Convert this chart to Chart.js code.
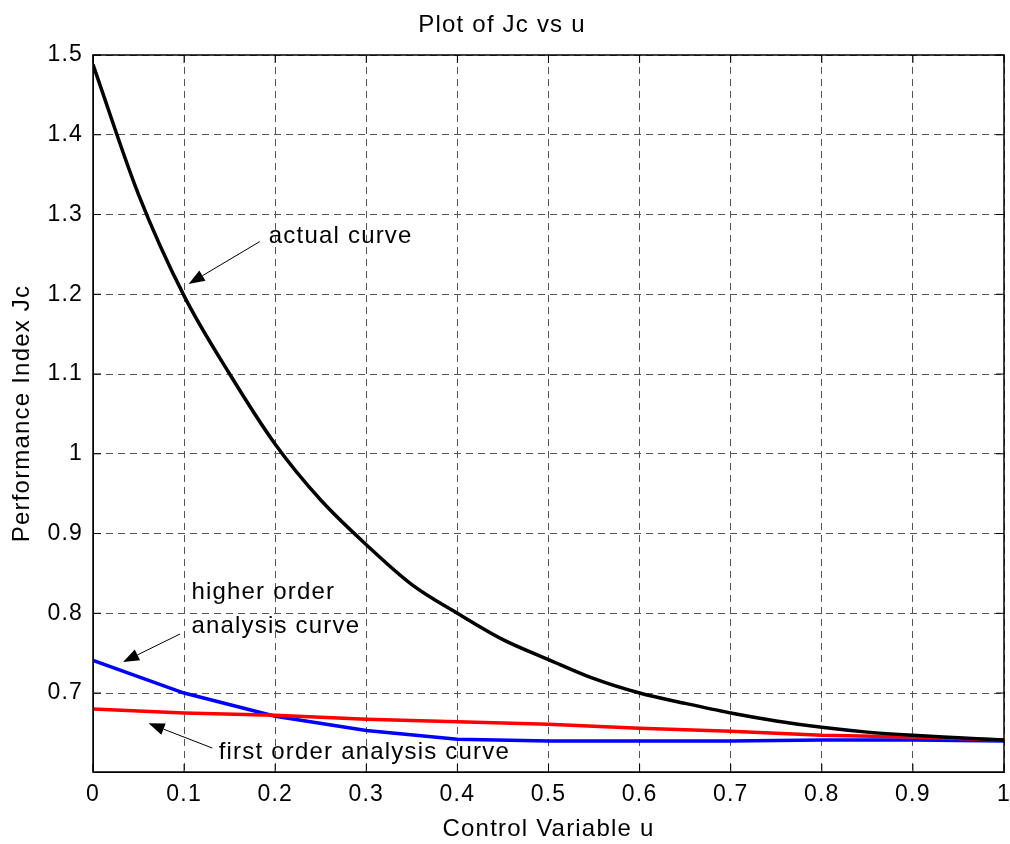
<!DOCTYPE html>
<html>
<head>
<meta charset="utf-8">
<script src="https://cdn.jsdelivr.net/npm/chart.js@4.4.1/dist/chart.umd.min.js"></script>
<style>
  html, body { margin: 0; padding: 0; background: #fff; }
  #wrap { width: 1010px; height: 844px; }
</style>
</head>
<body>
<div id="wrap"><canvas id="grafico"></canvas></div>
<script>
// dados
const uActual = [0, 0.05, 0.1, 0.15, 0.2, 0.25, 0.3, 0.35, 0.4, 0.45, 0.5, 0.55, 0.6, 0.65, 0.7, 0.75, 0.8, 0.85, 0.9, 0.95, 1.0];
const jcActual = [1.488, 1.325, 1.198, 1.100, 1.012, 0.942, 0.886, 0.836, 0.800, 0.767, 0.742, 0.718, 0.700, 0.687, 0.675, 0.665, 0.657, 0.651, 0.647, 0.644, 0.641];

const uApprox = [0, 0.1, 0.2, 0.3, 0.4, 0.5, 0.6, 0.7, 0.8, 0.9, 1.0];
const jcHigher = [0.741, 0.700, 0.671, 0.653, 0.642, 0.640, 0.640, 0.640, 0.641, 0.641, 0.640];
const jcFirst = [0.680, 0.675, 0.672, 0.667, 0.664, 0.661, 0.656, 0.652, 0.647, 0.645, 0.641];

const yTicks = [0.7, 0.8, 0.9, 1.0, 1.1, 1.2, 1.3, 1.4, 1.5];

// anotações: texto e setas (coordenadas em unidades dos dados)
const notas = [
  { linhas: ['actual curve'], x: 0.193, y: 1.272, de: [0.183, 1.266], para: [0.105, 1.213] },
  { linhas: ['higher order', 'analysis curve'], x: 0.108, y: 0.826, de: [0.0955, 0.774], para: [0.033, 0.739] },
  { linhas: ['first order analysis curve'], x: 0.138, y: 0.626, de: [0.131, 0.631], para: [0.061, 0.662] }
];

const FONTE = "'Liberation Sans', Arial, Helvetica, sans-serif";
const ESPACO = '1.2px';

function pares(xs, ys) {
  return xs.map((x, i) => ({ x: x, y: ys[i] }));
}

// texto um pouco mais espaçado, como no original
const espacoPlugin = {
  id: 'espaco',
  beforeLayout(chart) { chart.ctx.letterSpacing = ESPACO; },
  beforeDraw(chart) { chart.ctx.letterSpacing = ESPACO; }
};

const caixaPlugin = {
  id: 'caixa',
  afterDatasetsDraw(chart) {
    const { ctx, chartArea: a, scales } = chart;
    ctx.save();
    // moldura
    ctx.strokeStyle = '#000';
    ctx.lineWidth = 1.5;
    ctx.strokeRect(a.left, a.top, a.right - a.left, a.bottom - a.top);
    // ticks para dentro
    ctx.lineWidth = 1;
    ctx.beginPath();
    scales.x.ticks.forEach(t => {
      const px = scales.x.getPixelForValue(t.value);
      ctx.moveTo(px, a.bottom); ctx.lineTo(px, a.bottom - 8);
      ctx.moveTo(px, a.top); ctx.lineTo(px, a.top + 8);
    });
    scales.y.ticks.forEach(t => {
      const py = scales.y.getPixelForValue(t.value);
      ctx.moveTo(a.left, py); ctx.lineTo(a.left + 8, py);
      ctx.moveTo(a.right, py); ctx.lineTo(a.right - 8, py);
    });
    ctx.stroke();

    // anotações
    ctx.fillStyle = '#000';
    ctx.font = '24px ' + FONTE;
    ctx.letterSpacing = ESPACO;
    ctx.textBaseline = 'middle';
    ctx.textAlign = 'left';
    notas.forEach(n => {
      const tx = scales.x.getPixelForValue(n.x);
      const ty = scales.y.getPixelForValue(n.y);
      n.linhas.forEach((l, i) => ctx.fillText(l, tx, ty + i * 34));

      const x1 = scales.x.getPixelForValue(n.de[0]);
      const y1 = scales.y.getPixelForValue(n.de[1]);
      const x2 = scales.x.getPixelForValue(n.para[0]);
      const y2 = scales.y.getPixelForValue(n.para[1]);
      const ang = Math.atan2(y2 - y1, x2 - x1);
      const len = 16, larg = 6;
      const bx = x2 - len * Math.cos(ang), by = y2 - len * Math.sin(ang);
      ctx.lineWidth = 1;
      ctx.beginPath();
      ctx.moveTo(x1, y1);
      ctx.lineTo(bx, by);
      ctx.stroke();
      ctx.beginPath();
      ctx.moveTo(x2, y2);
      ctx.lineTo(bx + larg * Math.sin(ang), by - larg * Math.cos(ang));
      ctx.lineTo(bx - larg * Math.sin(ang), by + larg * Math.cos(ang));
      ctx.closePath();
      ctx.fill();
    });
    ctx.restore();
  }
};

const ctx = document.getElementById('grafico').getContext('2d');

new Chart(ctx, {
  type: 'line',
  data: {
    datasets: [
      {
        label: 'actual curve',
        data: pares(uActual, jcActual),
        borderColor: '#000',
        borderWidth: 3.5,
        pointRadius: 0,
        cubicInterpolationMode: 'monotone',
        fill: false
      },
      {
        label: 'first order analysis curve',
        data: pares(uApprox, jcFirst),
        borderColor: '#ff0000',
        borderWidth: 3.5,
        pointRadius: 0,
        tension: 0,
        fill: false
      },
      {
        label: 'higher order analysis curve',
        data: pares(uApprox, jcHigher),
        borderColor: '#0000ff',
        borderWidth: 3.5,
        pointRadius: 0,
        tension: 0,
        fill: false
      }
    ]
  },
  options: {
    responsive: true,
    maintainAspectRatio: false,
    animation: false,
    layout: { padding: { left: 0, right: 6, top: 0, bottom: 0 } },
    plugins: {
      legend: { display: false },
      tooltip: { enabled: false },
      title: {
        display: true,
        text: 'Plot of Jc vs u',
        color: '#000',
        font: { family: FONTE, size: 24, weight: 'normal', lineHeight: 1.2 },
        padding: { top: 10.6, bottom: 15.6 }
      }
    },
    scales: {
      x: {
        type: 'linear',
        min: 0,
        max: 1,
        ticks: {
          stepSize: 0.1,
          color: '#000',
          font: { family: FONTE, size: 23 },
          padding: 9,
          maxRotation: 0,
          callback: v => Number(v.toFixed(1)).toString()
        },
        grid: {
          color: '#555',
          lineWidth: 1,
          drawTicks: false
        },
        border: { display: true, color: '#000', dash: [7, 5] },
        title: {
          display: true,
          text: 'Control Variable u',
          color: '#000',
          font: { family: FONTE, size: 24, lineHeight: 1.2 },
          padding: { top: 6, bottom: 0 }
        },
        afterFit: s => { s.height = 72; s.paddingLeft = 0; s.paddingRight = 0; }
      },
      y: {
        type: 'linear',
        min: 0.601,
        max: 1.5,
        afterBuildTicks: s => { s.ticks = yTicks.map(v => ({ value: v })); },
        ticks: {
          color: '#000',
          font: { family: FONTE, size: 23 },
          padding: 10,
          callback: v => Number(v.toFixed(1)).toString()
        },
        grid: {
          color: '#555',
          lineWidth: 1,
          drawTicks: false
        },
        border: { display: true, color: '#000', dash: [7, 5] },
        title: {
          display: true,
          text: 'Performance Index Jc',
          color: '#000',
          font: { family: FONTE, size: 24, lineHeight: 1.2 },
          padding: { top: 7.6, bottom: 4 }
        },
        afterFit: s => { s.width = 93; s.paddingTop = 0; s.paddingBottom = 0; }
      }
    }
  },
  plugins: [espacoPlugin, caixaPlugin]
});
</script>
</body>
</html>
